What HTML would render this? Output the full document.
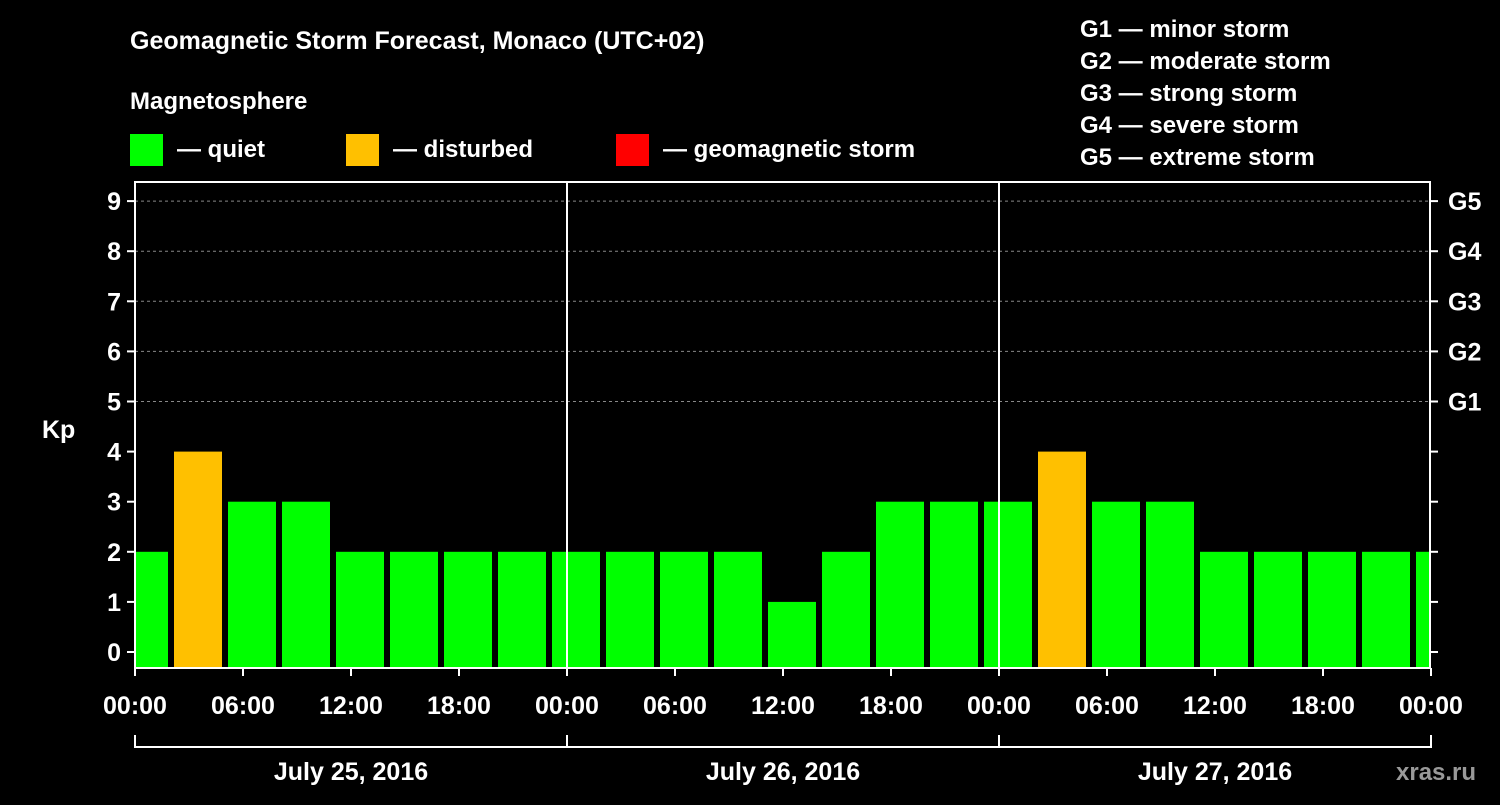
<!DOCTYPE html>
<html><head><meta charset="utf-8"><style>
body{margin:0;background:#000;}
svg text{font-family:"Liberation Sans",Arial,sans-serif;font-weight:bold;fill:#fff;}
</style></head><body>
<svg id="c" width="1500" height="800" xmlns="http://www.w3.org/2000/svg">
<rect width="1500" height="800" fill="#000"/>
<text x="130" y="49" font-size="25">Geomagnetic Storm Forecast, Monaco (UTC+02)</text>
<text x="130" y="109" font-size="24">Magnetosphere</text>
<g><rect x="130" y="134" width="33" height="32" fill="#00ff00"/><text x="177" y="157" font-size="24">— quiet</text></g>
<g><rect x="346" y="134" width="33" height="32" fill="#ffc000"/><text x="393" y="157" font-size="24">— disturbed</text></g>
<g><rect x="616" y="134" width="33" height="32" fill="#ff0000"/><text x="663" y="157" font-size="24">— geomagnetic storm</text></g>
<g font-size="24">
<text x="1080" y="37">G1 — minor storm</text>
<text x="1080" y="69">G2 — moderate storm</text>
<text x="1080" y="101">G3 — strong storm</text>
<text x="1080" y="133">G4 — severe storm</text>
<text x="1080" y="165">G5 — extreme storm</text>
</g>
<g id="plot"></g>
<text x="1396" y="780" font-size="24" fill="#888" style="fill:#999">xras.ru</text>
</svg>
<script>
const kpValues=[2,4,3,3,2,2,2,2,2,2,2,2,1,2,3,3,3,4,3,3,2,2,2,2,2];
const yTicks=[0,1,2,3,4,5,6,7,8,9];
const gLabels=["G1","G2","G3","G4","G5"];
const xTickLabels=["00:00","06:00","12:00","18:00","00:00","06:00","12:00","18:00","00:00","06:00","12:00","18:00","00:00"];
const dateLabels=["July 25, 2016","July 26, 2016","July 27, 2016"];
const NS="http://www.w3.org/2000/svg";
const L=135,R=1430,T=182,B=668;
const y=v=>652-v*50.1;
const xh=h=>L+h*18;
const g=document.getElementById('plot');
function mk(t,a,p){const e=document.createElementNS(NS,t);for(const k in a)e.setAttribute(k,a[k]);(p||g).appendChild(e);return e;}
const clip=mk('clipPath',{id:'cp'});mk('rect',{x:L,y:T,width:R-L,height:B-T},clip);
// gridlines
for(let v=5;v<=9;v++){const e=mk('line',{x1:L,x2:R,y1:y(v),y2:y(v),stroke:'#888','stroke-dasharray':'3,3','stroke-width':1});

}
// bars
const bg=mk('g',{'clip-path':'url(#cp)'});
kpValues.forEach((v,i)=>{const c=xh(-1.5+3*i+1.5);const col=v>=5?'#ff0000':(v>=4?'#ffc000':'#00ff00');
const e=mk('rect',{x:c-24+1.5*18-27+3,y:y(v),width:48,height:B-y(v),fill:col},bg);
e.setAttribute('x',xh(0.5+3*i)-24);

});
// day separators
[1,2].forEach(d=>{const e=mk('line',{x1:xh(24*d),x2:xh(24*d),y1:T,y2:B,stroke:'#fff','stroke-width':2});

});
// frame
const f=mk('rect',{x:L,y:T,width:R-L,height:B-T,fill:'none',stroke:'#fff','stroke-width':2});


// y ticks
yTicks.forEach(v=>{mk('line',{x1:L-8,x2:L,y1:y(v),y2:y(v),stroke:'#fff','stroke-width':2});
mk('line',{x1:R,x2:R+8,y1:y(v),y2:y(v),stroke:'#fff','stroke-width':2});
const t=mk('text',{x:L-14,y:y(v)+9,'font-size':25,'text-anchor':'end'});t.textContent=v;

});
gLabels.forEach((s,i)=>{const t=mk('text',{x:R+18,y:y(5+i)+9,'font-size':25});t.textContent=s;

});
const kp=mk('text',{x:42,y:438,'font-size':25});kp.textContent='Kp';


// x ticks
xTickLabels.forEach((s,i)=>{const x=xh(6*i);mk('line',{x1:x,x2:x,y1:B,y2:B+8,stroke:'#fff','stroke-width':2});
const t=mk('text',{x:x,y:714,'font-size':25,'text-anchor':'middle'});t.textContent=s;

});
// date bracket
mk('line',{x1:L,x2:R,y1:747,y2:747,stroke:'#fff','stroke-width':2});
[0,1,2,3].forEach(d=>mk('line',{x1:xh(24*d),x2:xh(24*d),y1:735,y2:748,stroke:'#fff','stroke-width':2}));
dateLabels.forEach((s,i)=>{const t=mk('text',{x:xh(24*i+12),y:780,'font-size':25,'text-anchor':'middle'});t.textContent=s;

});
</script>
</body></html>
